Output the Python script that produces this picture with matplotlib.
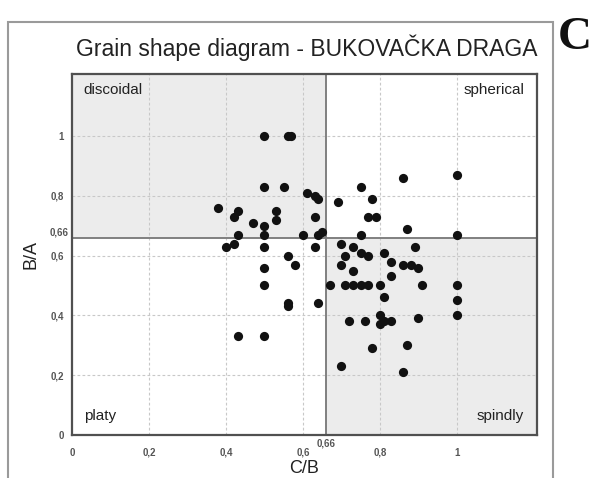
import matplotlib
matplotlib.use("Agg")
import matplotlib.pyplot as plt
from matplotlib.patches import Rectangle

plt.rcParams['font.family'] = ['Liberation Sans', 'DejaVu Sans']

# C/B values (x) and B/A values (y) of grains
cb = [0.50, 0.56, 0.57, 0.50, 0.55, 0.61, 0.63, 0.64, 0.69, 0.38,
      0.43, 0.42, 0.53, 0.53, 0.47, 0.50, 0.63, 0.43, 0.50, 0.60,
      0.64, 0.65, 0.40, 0.42, 0.50, 0.63, 0.56, 0.58, 0.50, 0.50,
      0.67, 1.00, 0.86, 0.75, 0.78, 0.77, 0.79, 0.87, 0.75, 1.00,
      0.70, 0.73, 0.89, 0.71, 0.75, 0.77, 0.81, 0.70, 0.73, 0.83,
      0.86, 0.88, 0.90, 0.83, 0.71, 0.73, 0.75, 0.77, 0.80, 0.91,
      1.00, 0.81, 1.00, 1.00, 0.56, 0.56, 0.64, 0.80, 0.80, 0.81,
      0.83, 0.72, 0.76, 0.90, 0.43, 0.50, 0.87, 0.78, 0.70, 0.86]
ba = [1.00, 1.00, 1.00, 0.83, 0.83, 0.81, 0.80, 0.79, 0.78, 0.76,
      0.75, 0.73, 0.75, 0.72, 0.71, 0.70, 0.73, 0.67, 0.67, 0.67,
      0.67, 0.68, 0.63, 0.64, 0.63, 0.63, 0.60, 0.57, 0.56, 0.50,
      0.50, 0.87, 0.86, 0.83, 0.79, 0.73, 0.73, 0.69, 0.67, 0.67,
      0.64, 0.63, 0.63, 0.60, 0.61, 0.60, 0.61, 0.57, 0.55, 0.58,
      0.57, 0.57, 0.56, 0.53, 0.50, 0.50, 0.50, 0.50, 0.50, 0.50,
      0.50, 0.46, 0.45, 0.40, 0.44, 0.43, 0.44, 0.40, 0.37, 0.38,
      0.38, 0.38, 0.38, 0.39, 0.33, 0.33, 0.30, 0.29, 0.23, 0.21]

threshold = 0.66
ticks = [0, 0.2, 0.4, 0.6, 0.8, 1]
tick_labels = ["0", "0,2", "0,4", "0,6", "0,8", "1"]
title = "Grain shape diagram - BUKOVAČKA DRAGA"
quadrants = ["discoidal", "spherical", "platy", "spindly"]

W, H = 596, 478
fig = plt.figure(figsize=(W / 100, H / 100), dpi=100)
fig.patch.set_facecolor('white')

# outer frame
fig.add_artist(Rectangle((8 / W, -0.02), (553 - 8) / W, 1 - 22 / H + 0.02,
                         transform=fig.transFigure, fill=False,
                         edgecolor='#9a9a9a', lw=1.5))
fig.text(575 / W, 1 - 38 / H, "C", family='Liberation Serif', weight='bold',
         fontsize=34, ha='center', va='center', color='#111111')

ax = fig.add_axes([72 / W, 1 - 435 / H, (537 - 72) / W, (435 - 74) / H])
xmax, ymax = 1.208, 1.207
ax.set_xlim(0, xmax)
ax.set_ylim(0, ymax)

shade = '#ececec'
ax.add_patch(Rectangle((0, threshold), threshold, ymax - threshold,
                       facecolor=shade, edgecolor='none', zorder=0))
ax.add_patch(Rectangle((threshold, 0), xmax - threshold, threshold,
                       facecolor=shade, edgecolor='none', zorder=0))

for t in ticks[1:]:
    ax.axvline(t, color='#c8c8c8', lw=0.8, ls=(0, (2.5, 2)), zorder=1)
    ax.axhline(t, color='#c8c8c8', lw=0.8, ls=(0, (2.5, 2)), zorder=1)
ax.axvline(threshold, color='#808080', lw=1.4, zorder=2)
ax.axhline(threshold, color='#808080', lw=1.4, zorder=2)

ax.scatter(cb, ba, s=44, color='#111111', zorder=3, linewidths=0)

ax.set_xticks(ticks)
ax.set_xticklabels(tick_labels)
ax.set_yticks(ticks)
ax.set_yticklabels(tick_labels)
ax.tick_params(length=0, labelsize=7, labelcolor='#555555')
ax.tick_params(axis='x', pad=9)
ax.tick_params(axis='y', pad=6)
for lab in ax.get_xticklabels() + ax.get_yticklabels():
    lab.set_fontweight('bold')

ax.text(threshold, -0.012, "0,66", ha='center', va='top', fontsize=7,
        color='#555555', weight='bold')
ax.text(-0.008, threshold, "0,66", ha='right', va='bottom', fontsize=7,
        color='#555555', weight='bold')

for s in ax.spines.values():
    s.set_color('#505050')
    s.set_linewidth(1.6)

ax.set_xlabel("C/B", fontsize=13, color='#222222', labelpad=2)
ax.set_ylabel("B/A", fontsize=13, color='#222222', labelpad=8)

qkw = dict(fontsize=11, color='#222222')
ax.text(0.03, 1.155, quadrants[0], ha='left', va='center', **qkw)
ax.text(1.175, 1.155, quadrants[1], ha='right', va='center', **qkw)
ax.text(0.03, 0.062, quadrants[2], ha='left', va='center', **qkw)
ax.text(1.175, 0.062, quadrants[3], ha='right', va='center', **qkw)

fig.text(537 / W, 1 - 48 / H, title, ha='right', va='center',
         fontsize=16.5, color='#222222')

fig.savefig("out.png", dpi=100)
